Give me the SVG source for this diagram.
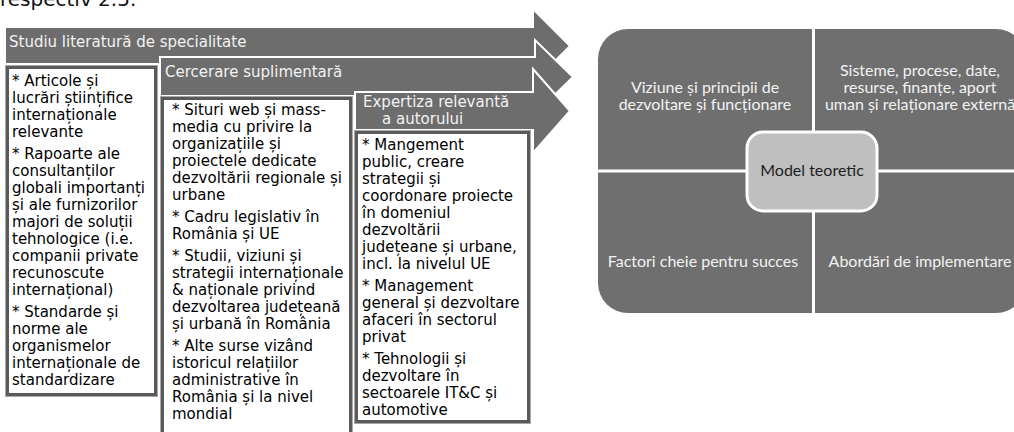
<svg xmlns="http://www.w3.org/2000/svg" width="1014" height="432" viewBox="0 0 1014 432">
  <style>
    .arrow { fill: #6d6d6d; stroke: #ffffff; stroke-width: 2; stroke-linejoin: miter; }
    .box { fill: #ffffff; stroke: #5a5a5a; stroke-width: 3; }
    .boxedge { fill: none; stroke: #a8a8a8; stroke-width: 1; }
    .lbl { font-family: "DejaVu Sans", Verdana, sans-serif; font-size: 15px; fill: #f2f2f2; }
    .txt { font-family: "DejaVu Sans", Verdana, sans-serif; font-size: 15px; fill: #000000; }
    .quad { fill: #6f6f6f; }
    .qtxt { font-family: Lato, "Liberation Sans", sans-serif; font-size: 16px; fill: #f2f2f2; text-anchor: middle; }
    .ctxt { font-family: Lato, "Liberation Sans", sans-serif; font-size: 16px; fill: #1e1e1e; text-anchor: middle; }
  </style>

  <!-- running text above the figure, clipped by the top edge -->
  <text x="0" y="6" font-family="DejaVu Sans, Verdana, sans-serif" font-size="20" fill="#111111">respectiv 2.5.</text>

  <!-- stage 1: literature study -->
  <g id="stage-literature">
    <path class="arrow" d="M5,27 H533 V9 L570,46 L533,83 V64 H5 Z"/>
    <text class="lbl" x="9" y="47">Studiu literatură de specialitate</text>
    <rect class="boxedge" x="5.5" y="65.5" width="152" height="331"/>
    <rect class="box" x="7.5" y="67.5" width="148" height="327"/>
    <text class="txt">
      <tspan x="12" y="86">* Articole și</tspan>
      <tspan x="12" y="103">lucrări științifice</tspan>
      <tspan x="12" y="120">internaționale</tspan>
      <tspan x="12" y="137">relevante</tspan>
      <tspan x="12" y="159">* Rapoarte ale</tspan>
      <tspan x="12" y="176">consultanților</tspan>
      <tspan x="12" y="193">globali importanți</tspan>
      <tspan x="12" y="210">și ale furnizorilor</tspan>
      <tspan x="12" y="227">majori de soluții</tspan>
      <tspan x="12" y="244">tehnologice (i.e.</tspan>
      <tspan x="12" y="261">companii private</tspan>
      <tspan x="12" y="278">recunoscute</tspan>
      <tspan x="12" y="295">internațional)</tspan>
      <tspan x="12" y="317">* Standarde și</tspan>
      <tspan x="12" y="334">norme ale</tspan>
      <tspan x="12" y="351">organismelor</tspan>
      <tspan x="12" y="368">internaționale de</tspan>
      <tspan x="12" y="385">standardizare</tspan>
    </text>
  </g>

  <!-- stage 2: additional research -->
  <g id="stage-research">
    <path class="arrow" d="M160,57 H535 V40 L573,77 L535,114 V96 H160 Z"/>
    <text class="lbl" x="165" y="77">Cercerare suplimentară</text>
    <rect class="boxedge" x="160.5" y="96.5" width="192" height="344"/>
    <rect class="box" x="162.5" y="98.5" width="188" height="340"/>
    <text class="txt">
      <tspan x="172" y="115">* Situri web și mass-</tspan>
      <tspan x="172" y="132">media cu privire la</tspan>
      <tspan x="172" y="149">organizațiile și</tspan>
      <tspan x="172" y="166">proiectele dedicate</tspan>
      <tspan x="172" y="183">dezvoltării regionale și</tspan>
      <tspan x="172" y="200">urbane</tspan>
      <tspan x="172" y="222">* Cadru legislativ în</tspan>
      <tspan x="172" y="239">România și UE</tspan>
      <tspan x="172" y="261">* Studii, viziuni și</tspan>
      <tspan x="172" y="278">strategii internaționale</tspan>
      <tspan x="172" y="295">&amp; naționale privind</tspan>
      <tspan x="172" y="312">dezvoltarea județeană</tspan>
      <tspan x="172" y="329">și urbană în România</tspan>
      <tspan x="172" y="351">* Alte surse vizând</tspan>
      <tspan x="172" y="368">istoricul relațiilor</tspan>
      <tspan x="172" y="385">administrative în</tspan>
      <tspan x="172" y="402">România și la nivel</tspan>
      <tspan x="172" y="419">mondial</tspan>
    </text>
  </g>

  <!-- stage 3: author's expertise -->
  <g id="stage-expertise">
    <path class="arrow" d="M355,92 H533 V69 L570,111 L533,153 V130 H355 Z"/>
    <text class="lbl" x="363" y="107">Expertiza relevantă</text>
    <text class="lbl" x="382" y="124">a autorului</text>
    <rect class="boxedge" x="354.5" y="130.5" width="176" height="293"/>
    <rect class="box" x="356.5" y="132.5" width="172" height="289"/>
    <text class="txt">
      <tspan x="362" y="150">* Mangement</tspan>
      <tspan x="362" y="167">public, creare</tspan>
      <tspan x="362" y="184">strategii și</tspan>
      <tspan x="362" y="201">coordonare proiecte</tspan>
      <tspan x="362" y="218">în domeniul</tspan>
      <tspan x="362" y="235">dezvoltării</tspan>
      <tspan x="362" y="252">județeane și urbane,</tspan>
      <tspan x="362" y="269">incl. la nivelul UE</tspan>
      <tspan x="362" y="291">* Management</tspan>
      <tspan x="362" y="308">general și dezvoltare</tspan>
      <tspan x="362" y="325">afaceri în sectorul</tspan>
      <tspan x="362" y="342">privat</tspan>
      <tspan x="362" y="364">* Tehnologii și</tspan>
      <tspan x="362" y="381">dezvoltare în</tspan>
      <tspan x="362" y="398">sectoarele IT&amp;C și</tspan>
      <tspan x="362" y="415">automotive</tspan>
    </text>
  </g>

  <!-- theoretical model matrix -->
  <g id="model-matrix">
    <rect class="quad" x="598" y="29" width="428" height="284" rx="30"/>
    <line x1="813.5" y1="27" x2="813.5" y2="315" stroke="#ffffff" stroke-width="3"/>
    <line x1="596" y1="171" x2="1028" y2="171" stroke="#ffffff" stroke-width="3"/>
  </g>
  <g id="quad-vision">
    <text class="qtxt"><tspan x="705" y="93">Viziune și principii de</tspan><tspan x="705" y="110">dezvoltare și funcționare</tspan></text>
  </g>
  <g id="quad-systems">
    <text class="qtxt"><tspan x="920" y="76">Sisteme, procese, date,</tspan><tspan x="920" y="93">resurse, finanțe, aport</tspan><tspan x="920" y="110">uman și relaționare externă</tspan></text>
  </g>
  <g id="quad-factors">
    <text class="qtxt" x="703" y="267">Factori cheie pentru succes</text>
  </g>
  <g id="quad-approaches">
    <text class="qtxt" x="920" y="267">Abordări de implementare</text>
  </g>
  <g id="model-core">
    <rect x="747" y="132" width="130" height="79" rx="16" fill="#bfbfbf" stroke="#ffffff" stroke-width="3"/>
    <text class="ctxt" x="812" y="176">Model teoretic</text>
  </g>
</svg>
